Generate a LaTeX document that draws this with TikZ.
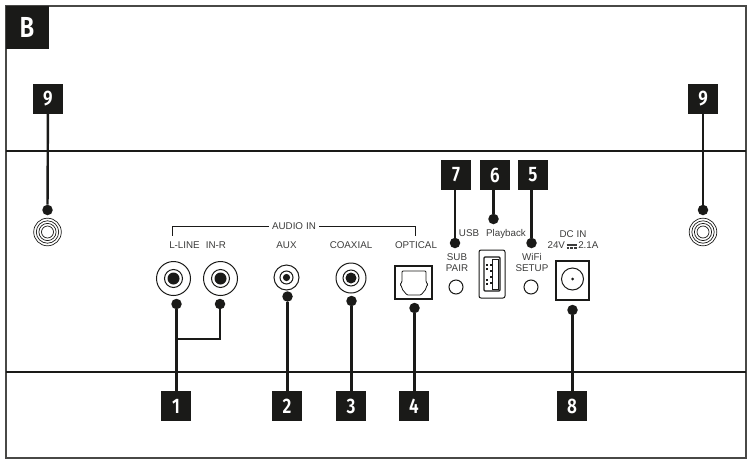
\documentclass[tikz,border=0pt]{standalone}
\usepackage{fontspec}
\setmainfont{Liberation Sans}
\newfontfamily\badgefont[FakeStretch=0.82]{Fira Sans SemiBold}
\usetikzlibrary{positioning,calc,backgrounds}
\definecolor{ink}{HTML}{1A1A18}
\newcommand{\dcsym}{\raisebox{3pt}{\rlap{\rule{10pt}{1.4pt}}}\rule{2.6pt}{2pt}\hspace{1.1pt}\rule{2.6pt}{2pt}\hspace{1.1pt}\rule{2.6pt}{2pt}}

\begin{document}
\begin{tikzpicture}[
  x=1pt,y=-1pt,
  badge/.style={fill=ink,text=white,minimum size=30pt,inner sep=0pt,font=\fontsize{21}{21}\selectfont\badgefont},
  dot/.style={circle,fill=ink,minimum size=10.5pt,inner sep=0pt},
  leader/.style={draw=ink,line width=2.4pt},
  portline/.style={draw=ink,line width=1pt},
  hole/.style={circle,draw=ink,line width=1pt,fill=white,inner sep=0pt},
  caption/.style={text=ink!85,inner sep=0pt,align=center,font=\fontsize{9.8}{11.6}\selectfont},
]
\useasboundingbox (0,0) rectangle (752,461);

% badges
\node[badge,minimum size=43pt,font=\fontsize{29}{29}\selectfont\badgefont] (sec) at (27,27) {B};
\node[badge] (b9l) at (48,99)  {9};
\node[badge] (b9r) at (703,99) {9};
\node[badge] (b7)  at (456,175) {7};
\node[badge] (b6)  at (495,175) {6};
\node[badge] (b5)  at (533,175) {5};
\node[badge] (b1)  at (176,406) {1};
\node[badge] (b2)  at (287,406) {2};
\node[badge] (b3)  at (351,406) {3};
\node[badge] (b4)  at (414,406) {4};
\node[badge] (b8)  at (572,406) {8};

% dots
\node[dot] (d9l) at (47.5,210) {};
\node[dot] (d9r) at (703,210) {};
\node[dot] (d7)  at (455,243) {};
\node[dot] (d6)  at (493.5,219) {};
\node[dot] (d5)  at (531.5,243) {};
\node[dot] (d1a) at (176.5,304) {};
\node[dot] (d1b) at (220,304) {};
\node[dot] (d2)  at (287.5,296.5) {};
\node[dot] (d3)  at (351.5,301) {};
\node[dot] (d4)  at (414.5,308) {};
\node[dot] (d8)  at (572.5,310) {};
\coordinate (j1) at (176.5,339);
\coordinate (j2) at (220,324);

% housing and leaders
\begin{scope}[on background layer]
\draw[ink!80,line width=1.5pt] (6,6) rectangle (746,458);
\draw[ink,line width=2pt] (6,151) -- (746,151);
\draw[ink,line width=2pt] (6,372) -- (746,372);
\draw[leader] (b9l) -- (d9l);
\draw[leader] (b9r) -- (d9r);
\draw[leader] (b7) ++(-1,0) -- (d7);
\draw[leader] (b6) ++(-1.5,0) -- (d6);
\draw[leader] (b5) ++(-1.5,0) -- (d5);
\draw[leader] (b1) ++(.5,0) -- (d1a);
\draw[leader] (b2) ++(.5,0) -- (d2);
\draw[leader] (b3) ++(.5,0) -- (d3);
\draw[leader] (b4) ++(.5,0) -- (d4);
\draw[leader] (b8) ++(.5,0) -- (d8);
\draw[ink,line width=1.5pt] (j1) -| (j2);
\draw[leader,line width=2pt] (d1b) -- (j1 -| d1b);
\end{scope}

% feet
\foreach \n/\x in {footl/47.5,footr/703}{
  \coordinate (\n) at (\x,232);
  \foreach \r in {13.8,11.2,8.6,6}
    \draw[ink,line width=.7pt] (\n) circle (\r);
}

% rca jacks
\node[hole,minimum size=34pt] (ll) at (173.5,278.5) {};
\node[hole,minimum size=34pt] (lr) at (220.5,278.5) {};
\node[hole,minimum size=25pt] (aux) at (286.5,277.5) {};
\node[hole,minimum size=30pt] (cox) at (351,278) {};
\foreach \n/\a/\b in {ll/9/6,lr/9/6,aux/6.5/3.6,cox/8/5.5}{
  \draw[portline] (\n) circle (\a);
  \fill[ink] (\n) circle (\b);
}

% optical, usb, dc
\node[draw=ink,line width=1.2pt,minimum width=37pt,minimum height=33pt,inner sep=0pt] (opt) at (413.5,282.5) {};
\draw[portline,line width=.8pt,rounded corners=1pt] (402,271) -- (426,271) -- (426,282) -- (428,284.5) -- (426,287) -- (426,289) -- (421,295) -- (407,295) -- (402,289) -- (402,287) -- (400,284.5) -- (402,282) -- cycle;
\node[draw=ink,line width=1pt,rounded corners=2pt,minimum width=26pt,minimum height=48pt,inner sep=0pt] (usb) at (492,274) {};
\node[draw=ink,line width=1.2pt,rounded corners=1pt,minimum width=16pt,minimum height=34pt,inner sep=0pt] (usbin) at (492,274) {};
\draw[ink,line width=.8pt] (492,259) rectangle (498,289);
\foreach \y in {264,268,279,283}
  \fill[ink] (486,\y) rectangle ++(2,2.4);
\foreach \y in {264,270,276,282}
  \fill[ink] (490,\y) rectangle ++(2,2);
\node[hole,minimum size=14pt] (sub) at (456,287) {};
\node[hole,minimum size=14pt] (wifi) at (531,287) {};
\node[draw=ink,line width=1.2pt,minimum width=33pt,minimum height=39pt,inner sep=0pt] (dc) at (572.5,280.5) {};
\node[hole,minimum size=22pt] (dcr) at (572.5,279) {};
\fill[ink] (dcr) circle (1.5);

% audio in bracket
\node[caption] (audio) at (294,226.5) {AUDIO\hspace{3pt}IN};
\coordinate (brl) at (172,236);
\coordinate (brr) at (415.5,236);
\draw[ink,line width=.8pt] (audio.west) ++(-3,0) -| (brl);
\draw[ink,line width=.8pt] (audio.east) ++(3,0) -| (brr);

% captions
\node[caption] (cl)  at (184.5,245) {L-LINE};
\node[caption] (cr)  at (216,245) {IN-R};
\node[caption] (ca)  at (286.5,245) {AUX};
\node[caption] (cc)  at (351,245) {COAXIAL};
\node[caption] (co)  at (416,245) {OPTICAL};
\node[caption] (cs)  at (457,262.5) {SUB\\PAIR};
\node[caption] (cu)  at (469,233.5) {USB};
\node[caption] (cp)  at (506,233.5) {Playback};
\node[caption] (cw)  at (532,262.5) {WiFi\\SETUP};
\node[caption] (cd)  at (573,239.5) {DC IN\\24V\,\dcsym\,2.1A};
\end{tikzpicture}
\end{document}
